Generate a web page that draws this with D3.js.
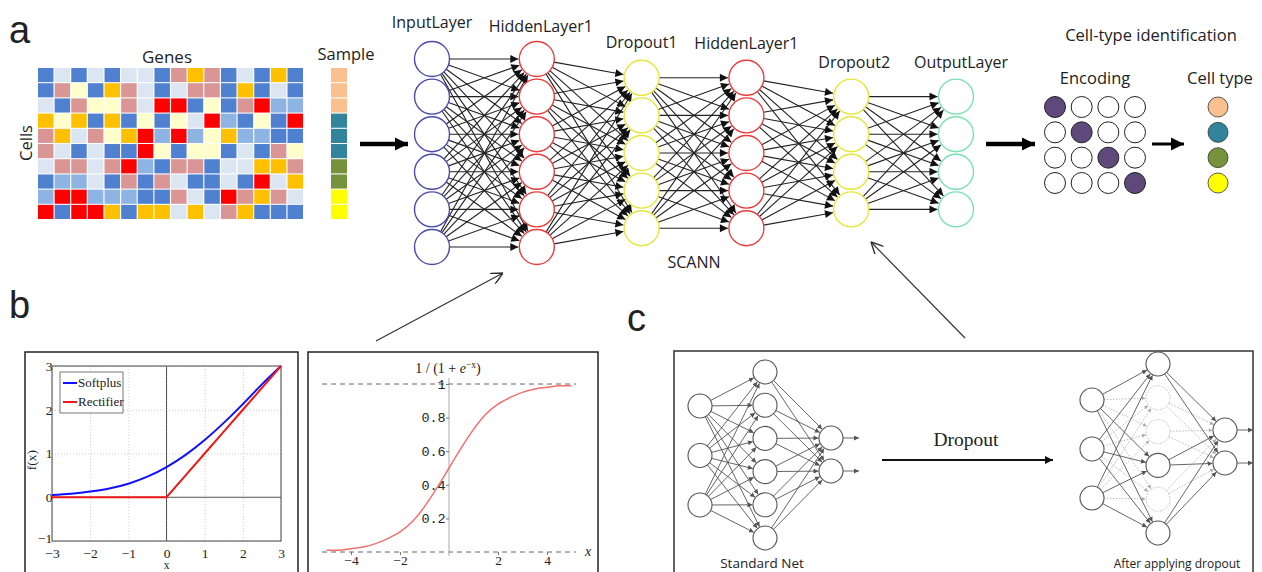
<!DOCTYPE html>
<html>
<head>
<meta charset="utf-8">
<script src="https://cdn.jsdelivr.net/npm/d3@7"></script>
<style>
body { margin: 0; background: #fff; }
text { font-family: "Open Sans", sans-serif; fill: #222; }
.serif { font-family: "Liberation Serif", "Times New Roman", serif; }
</style>
</head>
<body>
<script>
// ---- data ----
// heatmap: one letter per gene, one string per cell
const heatColors = {B: "#4f81d0", L: "#dce6f2", P: "#d99694", O: "#ffc000", Y: "#ffffcc", R: "#ff0000", M: "#8eb4e3"};
const heatRows = [
    "BLBLBLLBPOPBLBOB",
    "BPYBOPLBLPPBOBLB",
    "LBPYYPLRRBYBPRMM",
    "OYOBOBYBYLRMBYBR",
    "POLPYORMRMYOMMBB",
    "PLBLBBRYBYYBLBPY",
    "LPPLPRMBPPBLLOOP",
    "BMMLBPBPLBBLBRLO",
    "MRRMMMBBPLBRPOPL",
    "RBRROBOOLOLPOBBB"
];
const sampleColors = ["#fac090", "#fac090", "#fac090", "#31849b", "#31849b", "#31849b", "#76923c", "#76923c", "#ffff00", "#ffff00"];

// SCANN layers
const layerNames  = ["InputLayer", "HiddenLayer1", "Dropout1", "HiddenLayer1", "Dropout2", "OutputLayer"];
const layerSizes  = [6, 6, 5, 5, 4, 4];
const layerStroke = ["#4a4aa8", "#e83c3c", "#e6e63a", "#e83c3c", "#e6e63a", "#7ee0b0"];

// one-hot encoding -> cell type
const encoding = [[1, 0, 0, 0], [0, 1, 0, 0], [0, 0, 1, 0], [0, 0, 0, 1]];
const cellTypeColors = ["#fac090", "#31849b", "#76923c", "#ffff00"];

// activation curves (b)
const softX      = [-3, -2.5, -2, -1.5, -1, -0.5, 0, 0.5, 1, 1.5, 2, 2.5, 3];
const softplusY  = [0.05, 0.08, 0.13, 0.20, 0.31, 0.47, 0.69, 0.97, 1.31, 1.70, 2.13, 2.58, 3.0];
const rectifierY = [0, 0, 0, 0, 0, 0, 0, 0.5, 1, 1.5, 2, 2.5, 3];
const sigX = [-5, -4.5, -4, -3.5, -3, -2.5, -2, -1.5, -1, -0.5, 0, 0.5, 1, 1.5, 2, 2.5, 3, 3.5, 4, 4.5, 5];
const sigY = [0.01, 0.01, 0.02, 0.03, 0.05, 0.08, 0.12, 0.18, 0.27, 0.38, 0.5, 0.62, 0.73, 0.82, 0.88, 0.92, 0.95, 0.97, 0.98, 0.99, 0.99];
const softTicksX = [-3, -2, -1, 0, 1, 2, 3];
const softTicksY = [-1, 0, 1, 2, 3];
const sigTicksX = [-4, -2, 2, 4];
const sigTicksY = [0.2, 0.4, 0.6, 0.8, 1];

// dropout nets (c)
const netSizes = [3, 6, 2];
const droppedHidden = [1, 2, 4];

const WIDTH = 1262, HEIGHT = 572;

let svg = d3.select("body").append("svg")
    .attr("width", WIDTH)
    .attr("height", HEIGHT);

let defs = svg.append("defs");
function marker(id, w, h, color) {
    defs.append("marker")
        .attr("id", id)
        .attr("viewBox", "0 -5 10 10")
        .attr("refX", 10).attr("refY", 0)
        .attr("markerUnits", "userSpaceOnUse")
        .attr("markerWidth", w).attr("markerHeight", h)
        .attr("orient", "auto")
        .append("path").attr("d", "M0,-5L10,0L0,5Z").attr("fill", color);
}
marker("netArrow", 9, 8, "#111");
marker("bigArrow", 13, 15, "#000");
marker("smallArrow", 5, 5, "#555");
marker("dotArrow", 4, 4, "#aaa");
defs.append("marker")
    .attr("id", "openArrow")
    .attr("viewBox", "0 -5 10 10")
    .attr("refX", 10).attr("refY", 0)
    .attr("markerUnits", "userSpaceOnUse")
    .attr("markerWidth", 12).attr("markerHeight", 12)
    .attr("orient", "auto")
    .append("path").attr("d", "M0,-5L10,0L0,5").attr("fill", "none").attr("stroke", "#333").attr("stroke-width", 1.2);

// panel letters
svg.append("text").attr("x", 9).attr("y", 43).attr("font-size", 38).style("font-family", "Liberation Sans, Arial").text("a");
svg.append("text").attr("x", 9).attr("y", 318).attr("font-size", 38).style("font-family", "Liberation Sans, Arial").text("b");
svg.append("text").attr("x", 627).attr("y", 331).attr("font-size", 38).style("font-family", "Liberation Sans, Arial").text("c");

////////////////////////////////////////////////////////////////////////
// heatmap
let gx = d3.scaleBand().domain(d3.range(16)).range([38, 303]).paddingInner(0.07);
let gy = d3.scaleBand().domain(d3.range(heatRows.length)).range([68, 219]).paddingInner(0.07);

let cells = [];
heatRows.forEach((row, r) => row.split("").forEach((c, k) => cells.push({r: r, c: k, v: c})));

svg.append("g").selectAll("rect")
    .data(cells)
    .enter().append("rect")
        .attr("x", d => gx(d.c))
        .attr("y", d => gy(d.r))
        .attr("width", gx.bandwidth())
        .attr("height", gy.bandwidth())
        .attr("fill", d => heatColors[d.v]);

svg.append("g").selectAll("rect")
    .data(sampleColors)
    .enter().append("rect")
        .attr("x", 331)
        .attr("y", (d, i) => gy(i))
        .attr("width", 16)
        .attr("height", gy.bandwidth())
        .attr("fill", d => d);

svg.append("text").attr("x", 167).attr("y", 63).attr("text-anchor", "middle").attr("font-size", 17).text("Genes");
svg.append("text").attr("x", 346).attr("y", 60).attr("text-anchor", "middle").attr("font-size", 16.5).text("Sample");
svg.append("text").attr("transform", "translate(32,143) rotate(-90)").attr("text-anchor", "middle").attr("font-size", 16.5).text("Cells");

svg.append("line").attr("x1", 360).attr("y1", 144).attr("x2", 408).attr("y2", 144)
    .attr("stroke", "#000").attr("stroke-width", 4.5).attr("marker-end", "url(#bigArrow)");

////////////////////////////////////////////////////////////////////////
// network
const R = 17.5;
let lx = d3.scalePoint().domain(d3.range(layerSizes.length)).range([432, 956]);
const step = 37.6, midY = 153;
const labelShift = [[0, 0], [4, 4], [0, 1.5], [0, 2.5], [3, 2.5], [5, 2.5]]; // small nudges of the layer titles

let layers = layerSizes.map((n, l) => d3.range(n).map(i => ({
    l: l, i: i,
    x: lx(l),
    y: midY + (i - (n - 1) / 2) * step
})));

let edges = [];
for (let l = 0; l < layers.length - 1; l++) {
    layers[l].forEach(a => layers[l + 1].forEach(b => edges.push({a: a, b: b})));
}
function trim(a, b, ra, rb) {
    let dx = b.x - a.x, dy = b.y - a.y, len = Math.sqrt(dx * dx + dy * dy);
    return [a.x + dx / len * ra, a.y + dy / len * ra, b.x - dx / len * rb, b.y - dy / len * rb];
}

svg.append("g").selectAll("line")
    .data(edges)
    .enter().append("line")
        .each(function(d) {
            let t = trim(d.a, d.b, R, R + 1);
            d3.select(this).attr("x1", t[0]).attr("y1", t[1]).attr("x2", t[2]).attr("y2", t[3]);
        })
        .attr("stroke", "#222")
        .attr("stroke-width", 1.1)
        .attr("marker-end", "url(#netArrow)");

svg.append("g").selectAll("circle")
    .data(layers.flat())
    .enter().append("circle")
        .attr("cx", d => d.x)
        .attr("cy", d => d.y)
        .attr("r", R)
        .attr("fill", "#fff")
        .attr("stroke", d => layerStroke[d.l])
        .attr("stroke-width", 1.4);

svg.append("g").selectAll("text")
    .data(layerNames)
    .enter().append("text")
        .attr("x", (d, l) => lx(l) + labelShift[l][0])
        .attr("y", (d, l) => layers[l][0].y - R - 14 + labelShift[l][1])
        .attr("text-anchor", "middle")
        .attr("font-size", 16)
        .text(d => d);

svg.append("text").attr("x", 694).attr("y", 268).attr("text-anchor", "middle").attr("font-size", 16).text("SCANN");

svg.append("line").attr("x1", 986).attr("y1", 144).attr("x2", 1035).attr("y2", 144)
    .attr("stroke", "#000").attr("stroke-width", 4.5).attr("marker-end", "url(#bigArrow)");

////////////////////////////////////////////////////////////////////////
// cell-type identification
svg.append("text").attr("x", 1151).attr("y", 41).attr("text-anchor", "middle").attr("font-size", 16.5).text("Cell-type identification");
svg.append("text").attr("x", 1095).attr("y", 84).attr("text-anchor", "middle").attr("font-size", 16.5).text("Encoding");
svg.append("text").attr("x", 1220).attr("y", 84).attr("text-anchor", "middle").attr("font-size", 16.5).text("Cell type");

let ex = d3.scalePoint().domain(d3.range(4)).range([1055, 1135]);
let ey = d3.scalePoint().domain(d3.range(4)).range([107, 183]);
let encCells = [];
encoding.forEach((row, r) => row.forEach((v, c) => encCells.push({r: r, c: c, v: v})));

svg.append("g").selectAll("circle")
    .data(encCells)
    .enter().append("circle")
        .attr("cx", d => ex(d.c))
        .attr("cy", d => ey(d.r))
        .attr("r", 10.5)
        .attr("fill", d => d.v ? "#5f497a" : "#fff")
        .attr("stroke", "#222")
        .attr("stroke-width", 1);

svg.append("line").attr("x1", 1152).attr("y1", 144).attr("x2", 1184).attr("y2", 144)
    .attr("stroke", "#000").attr("stroke-width", 3).attr("marker-end", "url(#bigArrow)");

svg.append("g").selectAll("circle")
    .data(cellTypeColors)
    .enter().append("circle")
        .attr("cx", 1218)
        .attr("cy", (d, i) => ey(i))
        .attr("r", 10)
        .attr("fill", d => d)
        .attr("stroke", "#333")
        .attr("stroke-width", 0.8);

// pointer arrows
svg.append("line").attr("x1", 376).attr("y1", 341).attr("x2", 503).attr("y2", 273)
    .attr("stroke", "#333").attr("stroke-width", 1.2).attr("marker-end", "url(#openArrow)");
svg.append("line").attr("x1", 965).attr("y1", 338).attr("x2", 871).attr("y2", 242)
    .attr("stroke", "#333").attr("stroke-width", 1.2).attr("marker-end", "url(#openArrow)");

////////////////////////////////////////////////////////////////////////
// softplus / rectifier
svg.append("rect").attr("x", 25).attr("y", 352).attr("width", 273).attr("height", 240)
    .attr("fill", "#fff").attr("stroke", "#222").attr("stroke-width", 1.5);

let sx = d3.scaleLinear().domain([-3, 3]).range([52, 281]);
let sy = d3.scaleLinear().domain([-1, 3]).range([541, 366]);

let soft = svg.append("g");
soft.append("g")
    .attr("transform", "translate(0,541)")
    .call(d3.axisBottom(sx).tickValues(softTicksX).tickSize(-175).tickFormat(d3.format("d")))
    .call(g => g.select(".domain").remove())
    .call(g => g.selectAll("line").attr("stroke", "#ccc").attr("stroke-dasharray", "1,2"))
    .call(g => g.selectAll("text").attr("class", "serif").attr("font-size", 13.5).attr("fill", "#222").attr("dy", "1.0em"));
soft.append("g")
    .attr("transform", "translate(52,0)")
    .call(d3.axisLeft(sy).tickValues(softTicksY).tickSize(-229).tickFormat(d3.format("d")))
    .call(g => g.select(".domain").remove())
    .call(g => g.selectAll("line").attr("stroke", "#ccc").attr("stroke-dasharray", "1,2"))
    .call(g => g.selectAll("text").attr("class", "serif").attr("font-size", 13.5).attr("fill", "#222").attr("dx", "0.25em"))
    .call(g => g.selectAll(".tick").filter(d => d == -1).select("text").attr("dy", "0.1em"));
soft.append("rect").attr("x", 52).attr("y", 366).attr("width", 229).attr("height", 175)
    .attr("fill", "none").attr("stroke", "#444").attr("stroke-width", 1);
soft.append("line").attr("x1", sx(0)).attr("x2", sx(0)).attr("y1", 366).attr("y2", 541).attr("stroke", "#555");
soft.append("line").attr("x1", 52).attr("x2", 281).attr("y1", sy(0)).attr("y2", sy(0)).attr("stroke", "#555");

let softLine = d3.line().x(d => sx(d[0])).y(d => sy(d[1])).curve(d3.curveMonotoneX);
soft.append("path").datum(d3.zip(softX, softplusY)).attr("d", softLine)
    .attr("fill", "none").attr("stroke", "#1010ff").attr("stroke-width", 2);
soft.append("path").datum(d3.zip(softX, rectifierY)).attr("d", d3.line().x(d => sx(d[0])).y(d => sy(d[1])))
    .attr("fill", "none").attr("stroke", "#f01818").attr("stroke-width", 2);

// legend
soft.append("rect").attr("x", 60).attr("y", 372).attr("width", 63).attr("height", 41)
    .attr("fill", "#fff").attr("stroke", "#555").attr("stroke-width", 0.8);
[["Softplus", "#1010ff"], ["Rectifier", "#f01818"]].forEach((d, i) => {
    soft.append("line").attr("x1", 63).attr("x2", 77).attr("y1", 383 + i * 19).attr("y2", 383 + i * 19)
        .attr("stroke", d[1]).attr("stroke-width", 2);
    soft.append("text").attr("class", "serif").attr("x", 78).attr("y", 387 + i * 19).attr("font-size", 13).text(d[0]);
});
soft.append("text").attr("class", "serif").attr("transform", "translate(36,460) rotate(-90)")
    .attr("text-anchor", "middle").attr("font-size", 13.5).text("f(x)");
soft.append("text").attr("class", "serif").attr("x", sx(0)).attr("y", 569)
    .attr("text-anchor", "middle").attr("font-size", 11.5).text("x");

////////////////////////////////////////////////////////////////////////
// sigmoid
svg.append("rect").attr("x", 308).attr("y", 352).attr("width", 290).attr("height", 240)
    .attr("fill", "#fff").attr("stroke", "#222").attr("stroke-width", 1.5);

let gxs = d3.scaleLinear().domain([-5, 5]).range([326.5, 571.5]);
let gys = d3.scaleLinear().domain([0, 1]).range([552, 384]);
let sig = svg.append("g");

[0, 1].forEach(v => sig.append("line").attr("x1", 322).attr("x2", 576).attr("y1", gys(v)).attr("y2", gys(v))
    .attr("stroke", "#666").attr("stroke-dasharray", "5,4").attr("stroke-width", 1));
sig.append("line").attr("x1", gxs(0)).attr("x2", gxs(0)).attr("y1", 378).attr("y2", 556).attr("stroke", "#aaa");

sig.append("g")
    .attr("transform", "translate(0," + gys(0) + ")")
    .call(d3.axisBottom(gxs).tickValues(sigTicksX).tickSize(3).tickFormat(d => d < 0 ? "\u2212" + (-d) : d))
    .call(g => g.select(".domain").remove())
    .call(g => g.selectAll("line").attr("stroke", "#777"))
    .call(g => g.selectAll("text").attr("class", "serif").attr("font-size", 13.5).attr("fill", "#222").attr("dy", "0.5em"));
sig.append("g")
    .attr("transform", "translate(" + gxs(0) + ",0)")
    .call(d3.axisLeft(gys).tickValues(sigTicksY).tickSize(3).tickFormat(d => d == 1 ? "1" : d3.format(".1f")(d)))
    .call(g => g.select(".domain").remove())
    .call(g => g.selectAll("line").attr("stroke", "#777"))
    .call(g => g.selectAll("text").style("font-family", "Liberation Mono, monospace").attr("font-size", 13.5).attr("fill", "#333").attr("dx", "0.2em"));

sig.append("path").datum(d3.zip(sigX, sigY))
    .attr("d", d3.line().x(d => gxs(d[0])).y(d => gys(d[1])).curve(d3.curveMonotoneX))
    .attr("fill", "none").attr("stroke", "#f07070").attr("stroke-width", 1.5);

sig.append("text").attr("class", "serif").attr("x", 585).attr("y", 556).attr("font-size", 14).attr("font-style", "italic").text("x");
let title = sig.append("text").attr("class", "serif").attr("x", 448).attr("y", 373).attr("text-anchor", "middle").attr("font-size", 14);
title.append("tspan").text("1 / (1 + ");
title.append("tspan").attr("font-style", "italic").text("e");
title.append("tspan").attr("dy", -5).attr("font-size", 9.5).text("\u2212x");
title.append("tspan").attr("dy", 5).text(")");

////////////////////////////////////////////////////////////////////////
// dropout comparison (c)
svg.append("rect").attr("x", 674).attr("y", 351).attr("width", 579).attr("height", 240)
    .attr("fill", "#fff").attr("stroke", "#333").attr("stroke-width", 1.5);

function drawNet(xs, ys, dropped, label, labelX, labelSize) {
    let g = svg.append("g");
    let nodes = netSizes.map((n, l) => ys[l].map((y, i) => ({l: l, i: i, x: xs[l], y: y,
        off: l == 1 && dropped.indexOf(i) >= 0})));
    let links = [];
    for (let l = 0; l < nodes.length - 1; l++) {
        nodes[l].forEach(a => nodes[l + 1].forEach(b => links.push({a: a, b: b, off: a.off || b.off})));
    }
    links.sort((p, q) => q.off - p.off);
    g.selectAll("line.link")
        .data(links)
        .enter().append("line")
            .each(function(d) {
                let t = trim(d.a, d.b, 12, 12.5);
                d3.select(this).attr("x1", t[0]).attr("y1", t[1]).attr("x2", t[2]).attr("y2", t[3]);
            })
            .attr("stroke", d => d.off ? "#bbb" : "#555")
            .attr("stroke-width", d => d.off ? 1 : 0.9)
            .attr("stroke-dasharray", d => d.off ? "1.5,1.5" : null)
            .attr("marker-end", d => d.off ? "url(#dotArrow)" : "url(#smallArrow)");
    nodes[2].forEach(o => g.append("line").attr("x1", o.x + 12).attr("x2", o.x + 28).attr("y1", o.y).attr("y2", o.y)
        .attr("stroke", "#555").attr("stroke-width", 0.9).attr("marker-end", "url(#smallArrow)"));
    g.selectAll("circle")
        .data(nodes.flat())
        .enter().append("circle")
            .attr("cx", d => d.x).attr("cy", d => d.y).attr("r", 12)
            .attr("fill", d => d.off ? "none" : "#fff")
            .attr("stroke", d => d.off ? "#bbb" : "#555")
            .attr("stroke-width", d => d.off ? 1 : 1.1)
            .attr("stroke-dasharray", d => d.off ? "1.5,1.5" : null);
    g.append("text").attr("x", labelX).attr("y", 568).attr("text-anchor", "middle").attr("font-size", labelSize).text(label);
}

let stdY = d3.scalePoint().domain(d3.range(6)).range([372, 538]);
let stdIn = d3.scalePoint().domain(d3.range(3)).range([406, 505]);
let stdOut = d3.scalePoint().domain(d3.range(2)).range([438, 471]);
drawNet([700, 765, 831],
    [d3.range(3).map(stdIn), d3.range(6).map(stdY), d3.range(2).map(stdOut)],
    [], "Standard Net", 762, 13.5);

let aftY = d3.scalePoint().domain(d3.range(6)).range([364, 533]);
let aftIn = d3.scalePoint().domain(d3.range(3)).range([400, 498]);
let aftOut = d3.scalePoint().domain(d3.range(2)).range([430, 463]);
drawNet([1092, 1158, 1225],
    [d3.range(3).map(aftIn), d3.range(6).map(aftY), d3.range(2).map(aftOut)],
    droppedHidden, "After applying dropout", 1177, 12);

svg.append("text").attr("class", "serif").attr("x", 966).attr("y", 446).attr("text-anchor", "middle").attr("font-size", 19.5).text("Dropout");
svg.append("line").attr("x1", 882).attr("y1", 460).attr("x2", 1053).attr("y2", 460)
    .attr("stroke", "#111").attr("stroke-width", 2.2).attr("marker-end", "url(#netArrow)");
</script>
</body>
</html>
